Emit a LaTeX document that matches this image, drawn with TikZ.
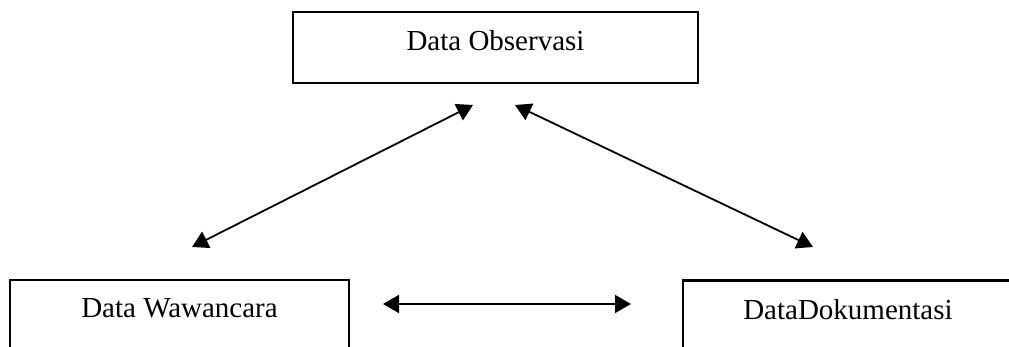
\documentclass[tikz,border=0pt]{standalone}
\usepackage{fontspec}
\setmainfont{Liberation Serif}
\usetikzlibrary{positioning}
\usetikzlibrary{arrows.meta}
\tikzset{
    databox/.style = {rectangle, draw=black, line width=1.1pt, minimum height=35.5pt, text depth=7pt, font=\fontsize{14.5}{17}\selectfont},
    edgen/.style = {{Triangle[length=8pt,width=9pt]}-{Triangle[length=8pt,width=9pt]}, line width=0.9pt},
}
\begin{document}
\begin{tikzpicture}[x=0.5pt,y=-0.5pt]
\useasboundingbox (0,0) rectangle (1009,347);
\clip (0,0) rectangle (1009,347);
%
\node[databox, minimum width=202.5pt] at (495.5,47.5) (observasi) {Data Observasi};
\node[databox, minimum width=169.5pt] at (179.5,315.5) (wawancara) {Data Wawancara};
\node[databox, minimum width=165pt] at (848,316) (dokumentasi) {DataDokumentasi};
%
\coordinate (ow) at (473,105);
\coordinate (od) at (515,105);
\coordinate (wo) at (192,247);
\coordinate (do) at (813,247);
\coordinate (wd) at (383,304);
\coordinate (dw) at (631,304);
%
\draw[edgen] (wo) -- (ow);
\draw[edgen] (od) -- (do);
\draw[edgen] (wd) -- (dw);

\end{tikzpicture}
\end{document}
